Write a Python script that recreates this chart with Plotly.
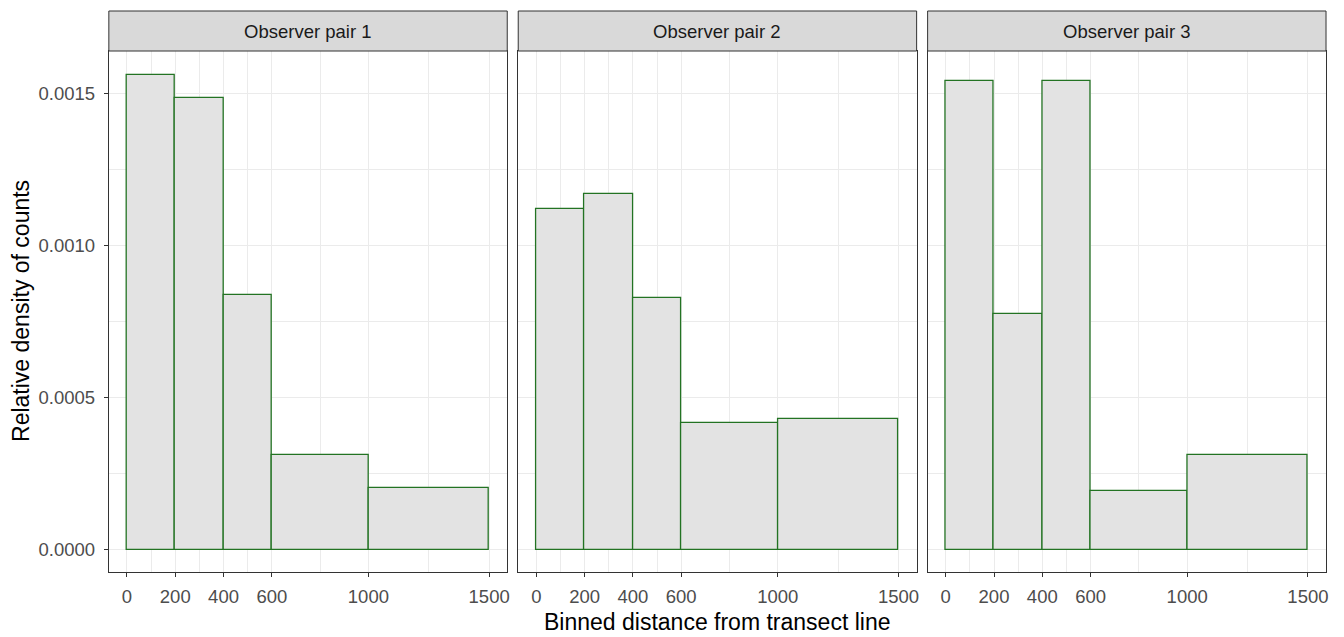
import plotly.graph_objects as go

# ---- data ----
bin_edges = [0, 200, 400, 600, 1000, 1500]
panels = ["Observer pair 1", "Observer pair 2", "Observer pair 3"]
density_pair1 = [0.001560, 0.001485, 0.000837, 0.000312, 0.000203]
density_pair2 = [0.001119, 0.001168, 0.000827, 0.000415, 0.000431]
density_pair3 = [0.001541, 0.000774, 0.001541, 0.000193, 0.000311]
x_ticks = [0, 200, 400, 600, 1000, 1500]
x_minor = [100, 300, 500, 800, 1250]
y_ticks = [0.0, 0.0005, 0.0010, 0.0015]
y_tick_labels = ["0.0000", "0.0005", "0.0010", "0.0015"]
y_minor = [0.00025, 0.00075, 0.00125]

series = [density_pair1, density_pair2, density_pair3]

W, H = 1344, 637
centers = [(a + b) / 2 for a, b in zip(bin_edges[:-1], bin_edges[1:])]
widths = [b - a for a, b in zip(bin_edges[:-1], bin_edges[1:])]

FONT = "Arial, Liberation Sans, sans-serif"
GRID = "#EBEBEB"
DARK = "#333333"

# panel pixel extents
px_x = [(109, 508), (519, 918), (929, 1328)]
top_px, bot_px, strip_top = 51, 572, 11
ydom = [1 - bot_px / H, 1 - top_px / H]

fig = go.Figure()
ymax = max(max(s) for s in series)
yr = [-0.047 * ymax, ymax * 1.051]
xr = [-75, 1575]

for i, (name, vals) in enumerate(zip(panels, series)):
    sfx = "" if i == 0 else str(i + 1)
    fig.add_trace(go.Bar(
        x=centers, y=vals, width=widths,
        marker=dict(color="#E3E3E3", line=dict(color="#237323", width=1.3)),
        xaxis="x" + sfx, yaxis="y" + sfx, showlegend=False,
        hoverinfo="x+y",
    ))
    x0, x1 = px_x[i]
    fig.layout["xaxis" + sfx] = dict(
        domain=[x0 / W, x1 / W], range=xr, anchor="y" + sfx,
        tickvals=x_ticks, ticktext=[str(v) for v in x_ticks],
        ticks="outside", ticklen=4, tickcolor=DARK, tickwidth=1,
        ticklabelstandoff=4,
        tickfont=dict(family=FONT, size=18.5, color="#4D4D4D"),
        showgrid=True, gridcolor=GRID, gridwidth=1.1,
        minor=dict(tickvals=x_minor, showgrid=True, gridcolor=GRID, gridwidth=0.6, ticks=""),
        showline=True, linecolor=DARK, linewidth=1, mirror=True,
        zeroline=False, fixedrange=True,
    )
    fig.layout["yaxis" + sfx] = dict(
        domain=ydom, range=yr, anchor="x" + sfx,
        tickvals=y_ticks, ticktext=y_tick_labels,
        showticklabels=(i == 0),
        ticks="outside" if i == 0 else "", ticklen=4, tickcolor=DARK, tickwidth=1,
        ticklabelstandoff=5,
        tickfont=dict(family=FONT, size=18.5, color="#4D4D4D"),
        showgrid=True, gridcolor=GRID, gridwidth=1.1,
        minor=dict(tickvals=y_minor, showgrid=True, gridcolor=GRID, gridwidth=0.6, ticks=""),
        showline=True, linecolor=DARK, linewidth=1, mirror=True,
        zeroline=False, fixedrange=True,
    )
    # strip
    fig.add_shape(type="rect", xref="paper", yref="paper",
                  x0=x0 / W, x1=x1 / W, y0=1 - top_px / H, y1=1 - strip_top / H,
                  fillcolor="#D9D9D9", line=dict(color=DARK, width=1), layer="above")
    fig.add_annotation(xref="paper", yref="paper", x=(x0 + x1) / 2 / W,
                       y=1 - (strip_top + top_px + 2) / 2 / H, text=name, showarrow=False,
                       font=dict(family=FONT, size=18.5, color="#1A1A1A"),
                       xanchor="center", yanchor="middle")

fig.add_annotation(xref="paper", yref="paper", x=(109 + 1328) / 2 / W, y=1 - 622 / H,
                   text="Binned distance from transect line", showarrow=False,
                   font=dict(family=FONT, size=23, color="#000000"),
                   xanchor="center", yanchor="middle")
fig.add_annotation(xref="paper", yref="paper", x=21 / W, y=1 - 311 / H,
                   text="Relative density of counts", showarrow=False, textangle=-90,
                   font=dict(family=FONT, size=23, color="#000000"),
                   xanchor="center", yanchor="middle")

fig.update_layout(
    width=W, height=H, margin=dict(l=0, r=0, t=0, b=0),
    paper_bgcolor="white", plot_bgcolor="white", bargap=0,
)
fig.write_html("out.html", config={"displayModeBar": False})
